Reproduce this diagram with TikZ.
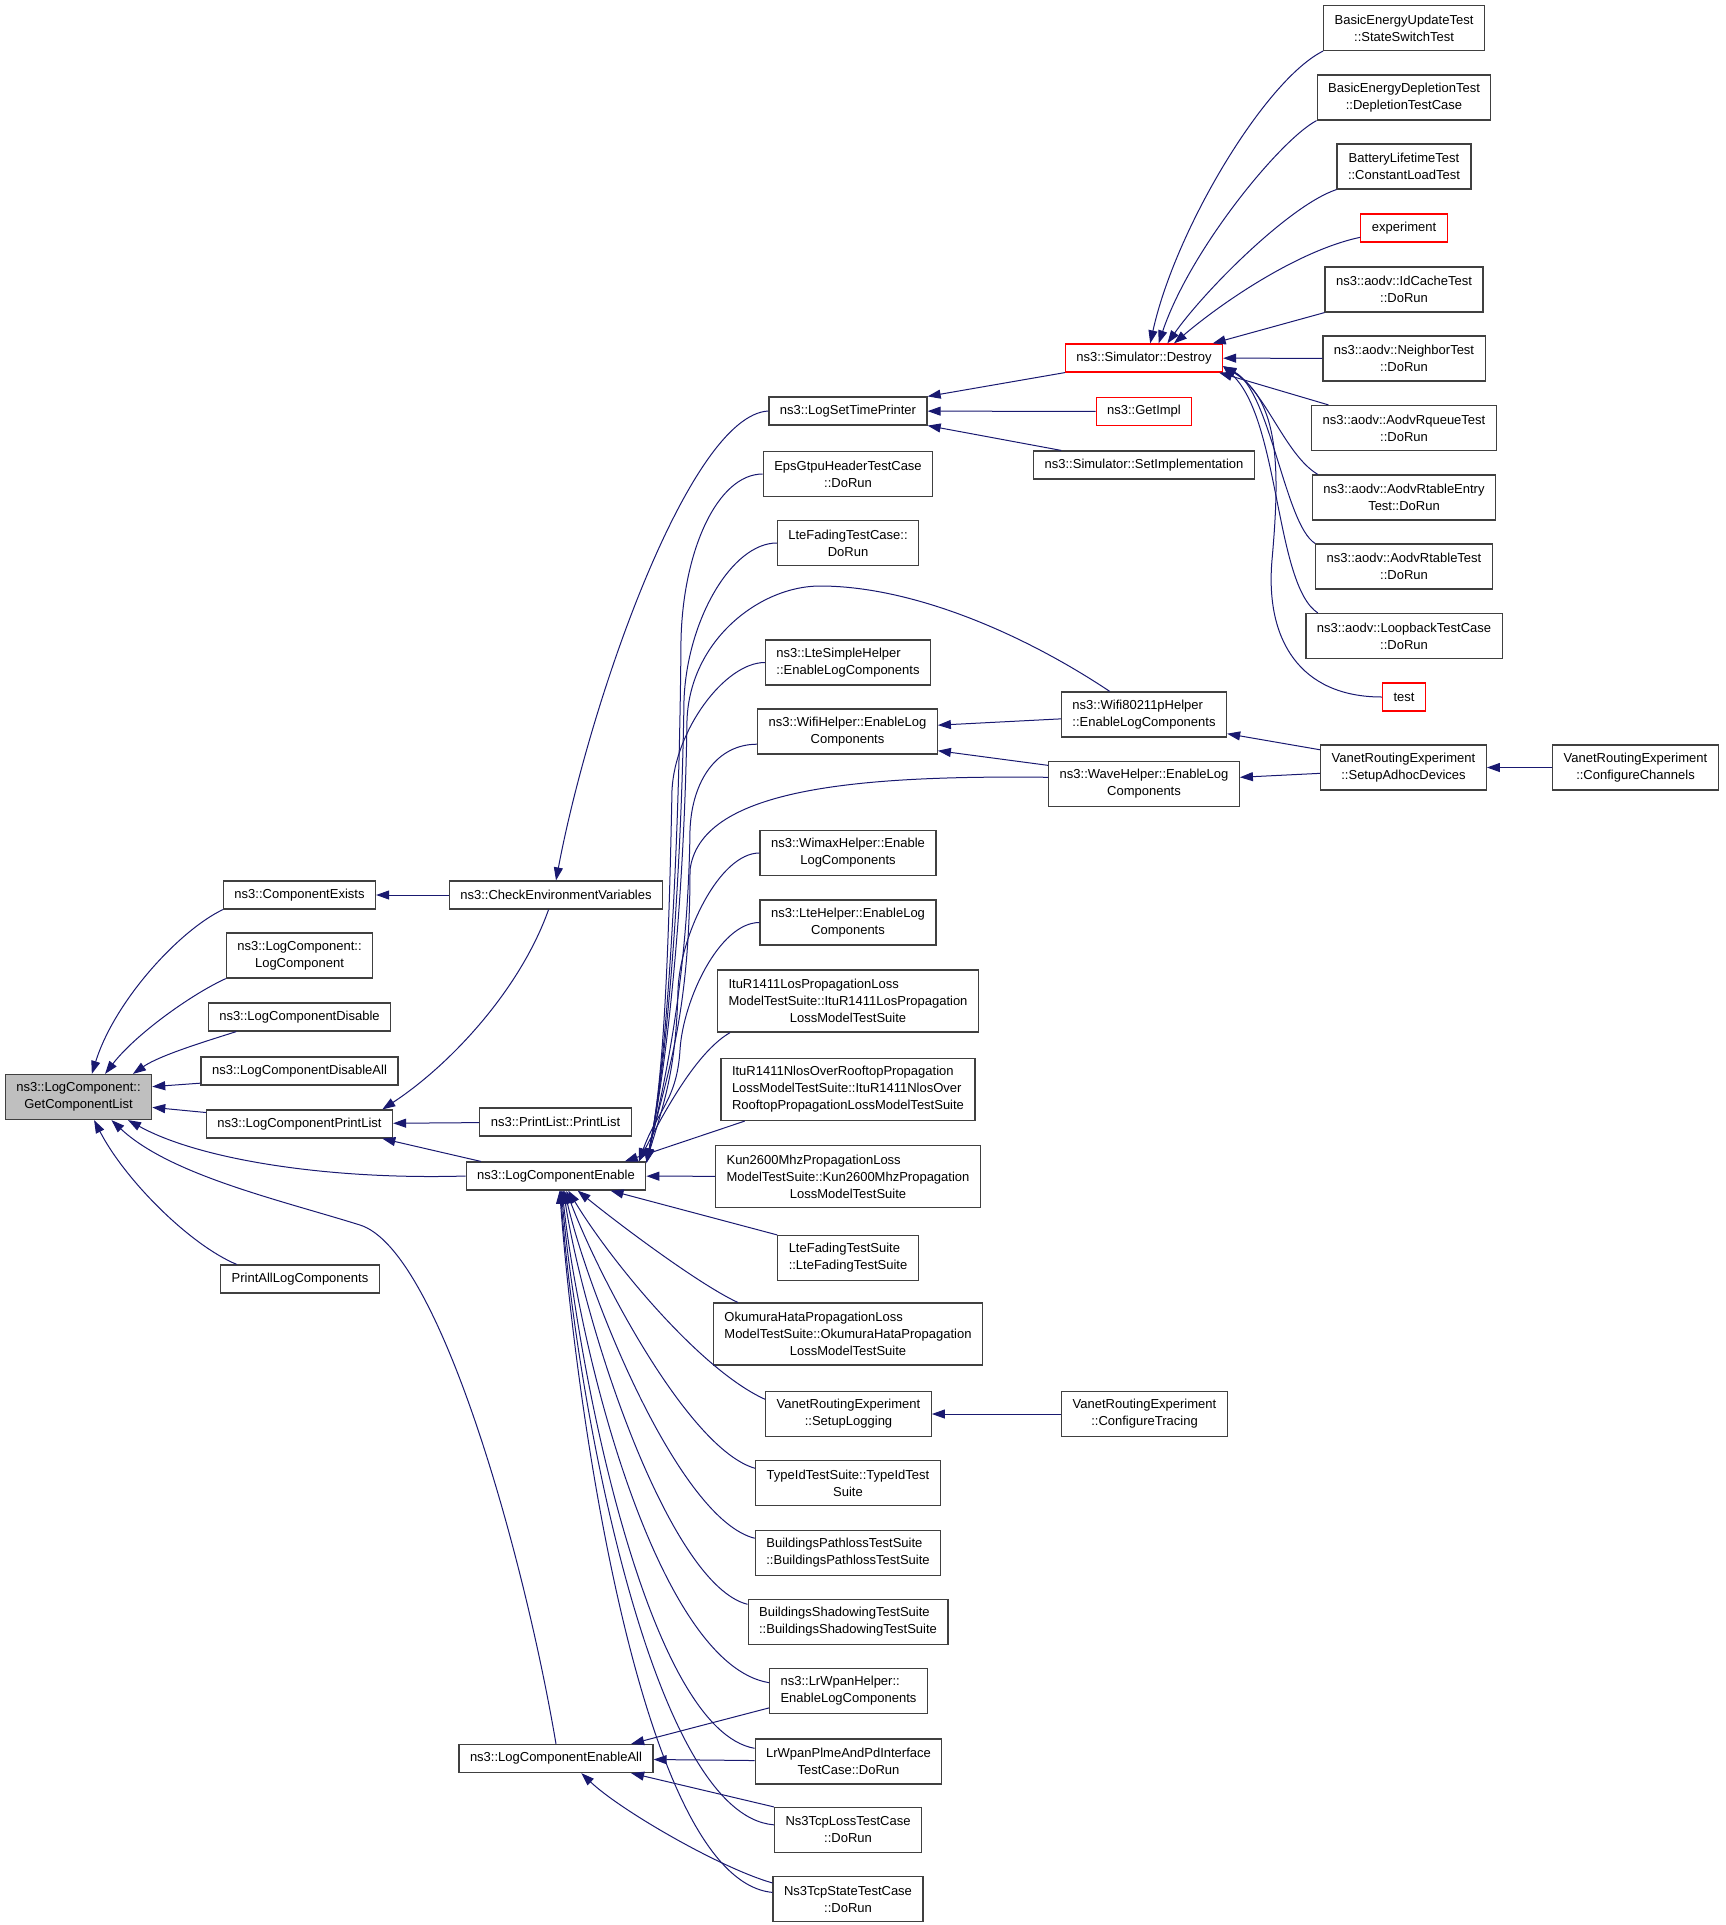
\documentclass[tikz,border=0pt]{standalone}
\usepackage{fontspec}
\setmainfont{Liberation Sans}
\usetikzlibrary{arrows.meta}
\definecolor{edgeblue}{HTML}{191970}
\definecolor{boxline}{HTML}{404040}
\definecolor{hilite}{HTML}{BFBFBF}
\newlength{\padw}
\newcommand{\padleft}[2]{\settowidth{\padw}{#2}\makebox[\padw][l]{#1}}

\begin{document}
\begin{tikzpicture}[->,>={Triangle[length=13pt,width=9pt]},x=1pt,y=-1pt,line width=1pt]
  \tikzstyle{fn} = [draw=boxline,line width=1.2pt,fill=white,text=black,font=\fontsize{13}{17}\selectfont,align=center,inner xsep=11pt,inner ysep=2pt,minimum height=28pt]
  \tikzstyle{two} = [fn,minimum height=45pt]
  \tikzstyle{three} = [fn,minimum height=62pt]
  \tikzstyle{cut} = [draw=red]
  \tikzstyle{call} = [draw=edgeblue]
  \useasboundingbox (0,0) rectangle (1725,1925);

  % left part
  \node[two,fill=hilite] (gcl)  at (78.5,1097)  {ns3::LogComponent::\\GetComponentList};
  \node[fn]              (ce)   at (299.5,895)  {ns3::ComponentExists};
  \node[two]             (lclc) at (299.5,955.5) {ns3::LogComponent::\\LogComponent};
  \node[fn]              (lcd)  at (299.5,1017) {ns3::LogComponentDisable};
  \node[fn]              (lcda) at (299.5,1071) {ns3::LogComponentDisableAll};
  \node[fn]              (lcpl) at (299.5,1124) {ns3::LogComponentPrintList};
  \node[fn]              (palc) at (300,1279)   {PrintAllLogComponents};
  \node[fn]              (cev)  at (556,895)    {ns3::CheckEnvironmentVariables};
  \node[fn]              (pl)   at (555.5,1122) {ns3::PrintList::PrintList};
  \node[fn]              (lce)  at (556,1176)   {ns3::LogComponentEnable};
  \node[fn]              (lcea) at (556,1758.5) {ns3::LogComponentEnableAll};

  % callers of LogComponentEnable
  \node[fn]    (lstp) at (848,411)    {ns3::LogSetTimePrinter};
  \node[two]   (eps)  at (848,474)    {EpsGtpuHeaderTestCase\\::DoRun};
  \node[two]   (lftc) at (848,543)    {LteFadingTestCase::\\DoRun};
  \node[two]   (lsh)  at (848,662.5)  {\padleft{ns3::LteSimpleHelper}{::EnableLogComponents}\\::EnableLogComponents};
  \node[two]   (wh)   at (847.5,731.5) {ns3::WifiHelper::EnableLog\\Components};
  \node[two]   (wmx)  at (848,853)    {ns3::WimaxHelper::Enable\\LogComponents};
  \node[two]   (lteh) at (848,922.5)  {ns3::LteHelper::EnableLog\\Components};
  \node[three] (los)  at (848,1001)   {\padleft{ItuR1411LosPropagationLoss}{ModelTestSuite::ItuR1411LosPropagation}\\ModelTestSuite::ItuR1411LosPropagation\\LossModelTestSuite};
  \node[three,align=left] (nlos) at (848,1089.5) {ItuR1411NlosOverRooftopPropagation\\LossModelTestSuite::ItuR1411NlosOver\\RooftopPropagationLossModelTestSuite};
  \node[three] (kun)  at (848,1176.5) {\padleft{Kun2600MhzPropagationLoss}{ModelTestSuite::Kun2600MhzPropagation}\\ModelTestSuite::Kun2600MhzPropagation\\LossModelTestSuite};
  \node[two,align=left] (lfts) at (848,1258) {LteFadingTestSuite\\::LteFadingTestSuite};
  \node[three] (oku)  at (848,1334)   {\padleft{OkumuraHataPropagationLoss}{ModelTestSuite::OkumuraHataPropagation}\\ModelTestSuite::OkumuraHataPropagation\\LossModelTestSuite};
  \node[two]   (svl)  at (848.5,1414) {VanetRoutingExperiment\\::SetupLogging};
  \node[two]   (tid)  at (848,1483)   {TypeIdTestSuite::TypeIdTest\\Suite};
  \node[two,align=left] (bpl) at (848,1553) {BuildingsPathlossTestSuite\\::BuildingsPathlossTestSuite};
  \node[two,align=left] (bsh) at (848,1622) {BuildingsShadowingTestSuite\\::BuildingsShadowingTestSuite};
  \node[two,align=left] (lrh) at (848.5,1691) {ns3::LrWpanHelper::\\EnableLogComponents};
  \node[two]   (plme) at (848.5,1761.5) {LrWpanPlmeAndPdInterface\\TestCase::DoRun};
  \node[two]   (tcpl) at (848,1830)   {Ns3TcpLossTestCase\\::DoRun};
  \node[two]   (tcps) at (848,1899)   {Ns3TcpStateTestCase\\::DoRun};

  % fourth column
  \node[fn,cut] (des)   at (1144,358)   {ns3::Simulator::Destroy};
  \node[fn,cut] (gimp)  at (1144,411.5) {ns3::GetImpl};
  \node[fn]     (simpl) at (1144,465)   {ns3::Simulator::SetImplementation};
  \node[two,align=left] (w80) at (1144,714.5) {ns3::Wifi80211pHelper\\::EnableLogComponents};
  \node[two]    (wave)  at (1144,784)   {ns3::WaveHelper::EnableLog\\Components};
  \node[two]    (ctr)   at (1144.5,1414) {VanetRoutingExperiment\\::ConfigureTracing};

  % callers of Simulator::Destroy
  \node[two]    (beut)  at (1404,28)    {BasicEnergyUpdateTest\\::StateSwitchTest};
  \node[two]    (bedt)  at (1404,97.5)  {BasicEnergyDepletionTest\\::DepletionTestCase};
  \node[two]    (blt)   at (1404,166.5) {BatteryLifetimeTest\\::ConstantLoadTest};
  \node[fn,cut] (exper) at (1404,228)   {experiment};
  \node[two]    (idc)   at (1404,289.5) {ns3::aodv::IdCacheTest\\::DoRun};
  \node[two]    (nbr)   at (1404,358.5) {ns3::aodv::NeighborTest\\::DoRun};
  \node[two]    (rq)    at (1404,428)   {ns3::aodv::AodvRqueueTest\\::DoRun};
  \node[two]    (rte)   at (1404,497.5) {ns3::aodv::AodvRtableEntry\\Test::DoRun};
  \node[two]    (rt)    at (1404,566.5) {ns3::aodv::AodvRtableTest\\::DoRun};
  \node[two]    (lb)    at (1404,636)   {ns3::aodv::LoopbackTestCase\\::DoRun};
  \node[fn,cut] (tst)   at (1404,697)   {test};
  \node[two]    (sad)   at (1403.5,767.5) {VanetRoutingExperiment\\::SetupAdhocDevices};
  \node[two]    (cch)   at (1635.5,767.5) {VanetRoutingExperiment\\::ConfigureChannels};

  % into GetComponentList
  \draw[call] (ce.south west) .. controls (180,930) and (115,1000) .. (gcl.60);
  \draw[call] (lclc.south west) .. controls (190,995) and (135,1035) .. (gcl.41);
  \draw[call] (lcd.193) .. controls (210,1040) and (160,1055) .. (gcl.23);
  \draw[call] (lcda.187) -- (gcl.8);
  \draw[call] (lcpl.173) -- (gcl.352);
  \draw[call] (lce.west) .. controls (330,1180) and (200,1160) .. (gcl.335);
  \draw[call] (lcea.north) .. controls (525,1560) and (440,1250) .. (360,1225)
                           .. controls (280,1200) and (170,1175) .. (gcl.325);
  \draw[call] (palc.167) .. controls (190,1245) and (125,1180) .. (gcl.304);

  % second column
  \draw[call] (cev) -- (ce);
  \draw[call] (cev.243) .. controls (520,990) and (450,1065) .. (lcpl.10);
  \draw[call] (pl) -- (lcpl);
  \draw[call] (lce.169) -- (lcpl.350);
  \draw[call] (lstp.west) .. controls (690,415) and (590,700) .. (cev.north);

  % LogSetTimePrinter
  \draw[call] (des.south west) -- (lstp.north east);
  \draw[call] (gimp) -- (lstp);
  \draw[call] (simpl.170) -- (lstp.south east);

  % Simulator::Destroy
  \draw[call] (beut.south west) .. controls (1265,80) and (1175,230) .. (des.67);
  \draw[call] (bedt.south west) .. controls (1280,140) and (1190,250) .. (des.45);
  \draw[call] (blt.south west) .. controls (1290,205) and (1205,290) .. (des.32);
  \draw[call] (exper.192) .. controls (1300,250) and (1225,300) .. (des.26);
  \draw[call] (idc.south west) -- (des.12);
  \draw[call] (nbr) -- (des);
  \draw[call] (rq.163) -- (des.349);
  \draw[call] (rte.165) .. controls (1285,455) and (1265,390) .. (des.354);
  \draw[call] (rt.north west) .. controls (1285,525) and (1270,390) .. (des.354);
  \draw[call] (lb.165) .. controls (1275,585) and (1280,420) .. (des.354);
  \draw[call] (tst.west) .. controls (1300,697) and (1265,640) .. (1272,560)
                         .. controls (1280,470) and (1280,400) .. (des.354);

  % helpers
  \draw[call] (w80.183) -- (wh.4);
  \draw[call] (wave.169) -- (wh.348);
  \draw[call] (sad.168) -- (w80.347);
  \draw[call] (sad.184) -- (wave.4);
  \draw[call] (cch) -- (sad);
  \draw[call] (ctr) -- (svl);

  % into LogComponentEnable, from above
  \draw[call] (eps.west) .. controls +(-45,0) and +(2,-90) .. (681,640)
                         .. controls +(-2,250) and +(18,-80) .. (lce.north east);
  \draw[call] (lftc.west) .. controls +(-45,0) and +(3,-80) .. (684,700)
                          .. controls +(-3,200) and +(18,-80) .. (lce.9);
  \draw[call] (w80.146) .. controls +(-90,-60) and +(90,0) .. (820,586)
                        .. controls +(-60,0) and +(3,-80) .. (687,720)
                        .. controls +(-3,200) and +(18,-80) .. (lce.north east);
  \draw[call] (lsh.west) .. controls +(-40,0) and +(3,-60) .. (672,790)
                         .. controls +(-3,150) and +(18,-80) .. (lce.9.5);
  \draw[call] (wh.188) .. controls +(-40,0) and +(2,-50) .. (690,830)
                       .. controls +(-2,150) and +(18,-80) .. (lce.8);
  \draw[call] (wave.176) .. controls (850,775) and (700,790) .. (690,870)
                         .. controls +(0,150) and +(18,-80) .. (lce.north east);
  \draw[call] (wmx.west) .. controls +(-40,0) and +(2,-55) .. (678,990)
                         .. controls +(-2,80) and +(18,-60) .. (lce.9.5);
  \draw[call] (lteh.west) .. controls +(-40,0) and +(3,-50) .. (680,1050)
                          .. controls +(-3,50) and +(18,-50) .. (lce.10);
  \draw[call] (los.195) .. controls (700,1050) and (670,1100) .. (lce.10.5);
  \draw[call] (nlos.197) -- (lce.12);
  \draw[call] (kun) -- (lce);

  % into LogComponentEnable, from below
  \draw[call] (lfts.north west) -- (lce.345);
  \draw[call] (oku.164) .. controls (700,1285) and (620,1225) .. (lce.326);
  \draw[call] (svl.170) .. controls (700,1370) and (610,1260) .. (lce.310);
  \draw[call] (tid.171) .. controls (690,1450) and (600,1280) .. (lce.305);
  \draw[call] (bpl.171) .. controls (680,1520) and (590,1300) .. (lce.300);
  \draw[call] (bsh.170) .. controls (670,1585) and (585,1330) .. (lce.297);
  \draw[call] (lrh.174) .. controls (660,1665) and (580,1360) .. (lce.293);
  \draw[call] (plme.172) .. controls (650,1730) and (578,1380) .. (lce.290);
  \draw[call] (tcpl.176) .. controls (650,1815) and (575,1390) .. (lce.287);
  \draw[call] (tcps.175) .. controls (640,1880) and (575,1400) .. (lce.284);

  % LogComponentEnableAll
  \draw[call] (lrh.192) -- (lcea.11);
  \draw[call] (plme) -- (lcea);
  \draw[call] (tcpl.north west) -- (lcea.349);
  \draw[call] (tcps.168) .. controls (720,1868) and (620,1810) .. (lcea.330);
\end{tikzpicture}
\end{document}
